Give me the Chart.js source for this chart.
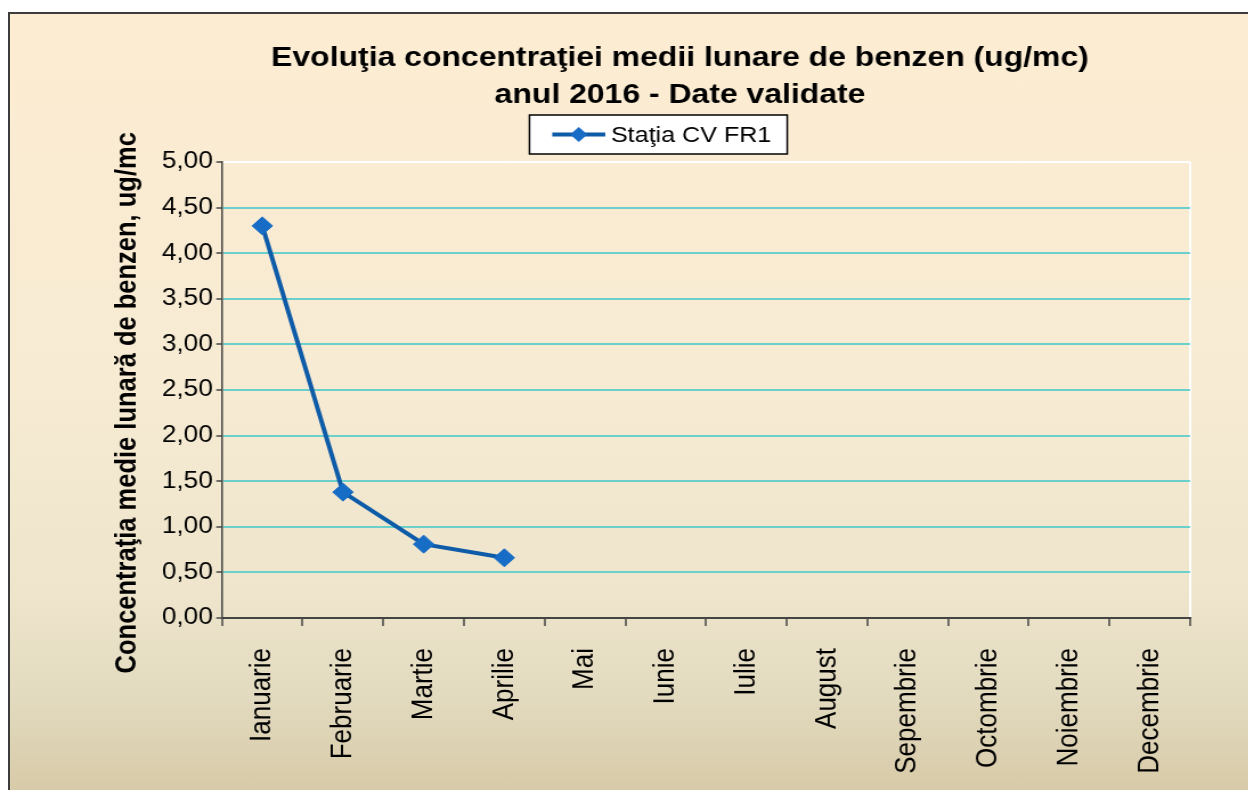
<!DOCTYPE html>
<html>
<head>
<meta charset="utf-8">
<script src="https://cdn.jsdelivr.net/npm/chart.js@4.4.1/dist/chart.umd.min.js"></script>
<style>
  html, body { margin: 0; padding: 0; background: #fff; overflow: hidden; width: 1248px; height: 790px; }
  #frame {
    position: absolute; left: 8px; top: 12px; width: 1300px; height: 800px;
    border-left: 2px solid #3c3c3c; border-top: 2px solid #3c3c3c;
    background: linear-gradient(to bottom, #fcecd2 0%, #f7ebd3 45%, #eee5cc 72%, #e3dbc0 85%, #d4c6a2 100%);
  }
  #chart { position: absolute; left: 0; top: 0; transform: scaleX(1.14); transform-origin: 0 0; }
</style>
</head>
<body>
<div id="frame"></div>
<canvas id="chart" width="1193" height="790"></canvas>
<script>
// Data
const titleLines = ['Evoluţia concentraţiei medii lunare de benzen (ug/mc)', 'anul 2016 - Date validate'];
const yTitle = 'Concentraţia medie lunară de benzen, ug/mc';
const seriesLabel = 'Staţia CV FR1';
const months = ['Ianuarie', 'Februarie', 'Martie', 'Aprilie', 'Mai', 'Iunie', 'Iulie', 'August', 'Sepembrie', 'Octombrie', 'Noiembrie', 'Decembrie'];
const benzen = [4.30, 1.38, 0.81, 0.66, null, null, null, null, null, null, null, null];
const yMin = 0, yMax = 5, yStep = 0.5;

const FONT = "'Liberation Sans', Arial, sans-serif";
const LINE_COLOR = '#0e5ba8';
const POINT_COLOR = '#176cc5';
const GRID_TEAL = '#6bcfcc';
const AXIS_GRAY = '#444444';

// Hand drawn legend box (line + diamond + label), centred a bit left of the title
const legendBox = {
    id: 'legendBox',
    afterDraw(chart) {
        const ctx = chart.ctx;
        const ds = chart.data.datasets[0];
        const cx = 577.5, top = 115, h = 39;
        const padL = 20, lineLen = 46.5, gap = 5, padR = 14;
        ctx.save();
        ctx.font = '22px ' + FONT;
        const tw = ctx.measureText(ds.label).width;
        const w = padL + lineLen + gap + tw + padR;
        const left = cx - w / 2;
        ctx.fillStyle = '#ffffff';
        ctx.fillRect(left, top, w, h);
        ctx.strokeStyle = '#000000';
        ctx.lineWidth = 1.5;
        ctx.strokeRect(left, top, w, h);
        const my = top + h / 2;
        ctx.strokeStyle = ds.borderColor;
        ctx.lineWidth = 4;
        ctx.beginPath();
        ctx.moveTo(left + padL, my);
        ctx.lineTo(left + padL + lineLen, my);
        ctx.stroke();
        const dx = left + padL + lineLen / 2;
        const r = 7.5;
        ctx.fillStyle = ds.pointBackgroundColor;
        ctx.beginPath();
        ctx.moveTo(dx, my - r);
        ctx.lineTo(dx + r, my);
        ctx.lineTo(dx, my + r);
        ctx.lineTo(dx - r, my);
        ctx.closePath();
        ctx.fill();
        ctx.fillStyle = '#000000';
        ctx.textBaseline = 'middle';
        ctx.textAlign = 'left';
        ctx.fillText(ds.label, left + padL + lineLen + gap, my + 1);
        ctx.restore();
    }
};

new Chart(document.getElementById('chart'), {
    type: 'line',
    data: {
        labels: months,
        datasets: [{
            label: seriesLabel,
            data: benzen,
            borderColor: LINE_COLOR,
            borderWidth: 4,
            pointStyle: 'rectRot',
            pointRadius: 9,
            pointBackgroundColor: POINT_COLOR,
            pointBorderColor: POINT_COLOR,
            pointBorderWidth: 1,
            tension: 0,
            spanGaps: false,
            clip: false
        }]
    },
    options: {
        responsive: false,
        animation: false,
        layout: { padding: 0 },
        plugins: {
            legend: { display: false },
            tooltip: { enabled: false },
            title: {
                display: true,
                text: titleLines,
                color: '#000000',
                font: { family: FONT, size: 28, weight: 'bold', lineHeight: 1.32 },
                padding: { top: 39.5, bottom: 48.6 }
            }
        },
        scales: {
            x: {
                type: 'category',
                offset: true,
                afterFit: (s) => { s.height = 172; },
                grid: {
                    offset: true,
                    drawOnChartArea: true,
                    color: (c) => c.tick === undefined ? '#ffffff' : 'rgba(0,0,0,0)',
                    lineWidth: 2,
                    tickColor: AXIS_GRAY,
                    tickLength: 8,
                    tickWidth: 1.5
                },
                border: { display: true, color: AXIS_GRAY, width: 2 },
                ticks: {
                    autoSkip: false,
                    minRotation: 90,
                    maxRotation: 90,
                    padding: 22,
                    color: '#000000',
                    font: { family: FONT, size: 26 }
                }
            },
            y: {
                type: 'linear',
                position: 'left',
                min: yMin,
                max: yMax,
                afterFit: (s) => { s.width = 194.7; },
                grid: {
                    color: (c) => {
                        if (!c.tick) return GRID_TEAL;
                        if (c.tick.value === yMax) return '#ffffff';
                        if (c.tick.value === yMin) return 'rgba(0,0,0,0)';
                        return GRID_TEAL;
                    },
                    lineWidth: 2,
                    tickColor: AXIS_GRAY,
                    tickLength: 5,
                    tickWidth: 1.5
                },
                border: { display: true, color: AXIS_GRAY, width: 1.5 },
                ticks: {
                    stepSize: yStep,
                    padding: 3,
                    color: '#000000',
                    font: { family: FONT, size: 23 },
                    callback: (v) => Number(v).toFixed(2).replace('.', ',')
                },
                title: {
                    display: true,
                    // two en spaces at the end push the centred text down a little, as in the reference
                    text: yTitle + '\u2002\u2002',
                    color: '#000000',
                    font: { family: FONT, size: 25.5, weight: 'bold' },
                    padding: { top: 97, bottom: 0 }
                }
            },
            yRight: {
                type: 'linear',
                position: 'right',
                display: true,
                afterFit: (s) => { s.width = 149.1; },
                grid: { drawOnChartArea: false, drawTicks: false },
                border: { display: false },
                ticks: { display: false }
            }
        }
    },
    plugins: [legendBox]
});
</script>
</body>
</html>
